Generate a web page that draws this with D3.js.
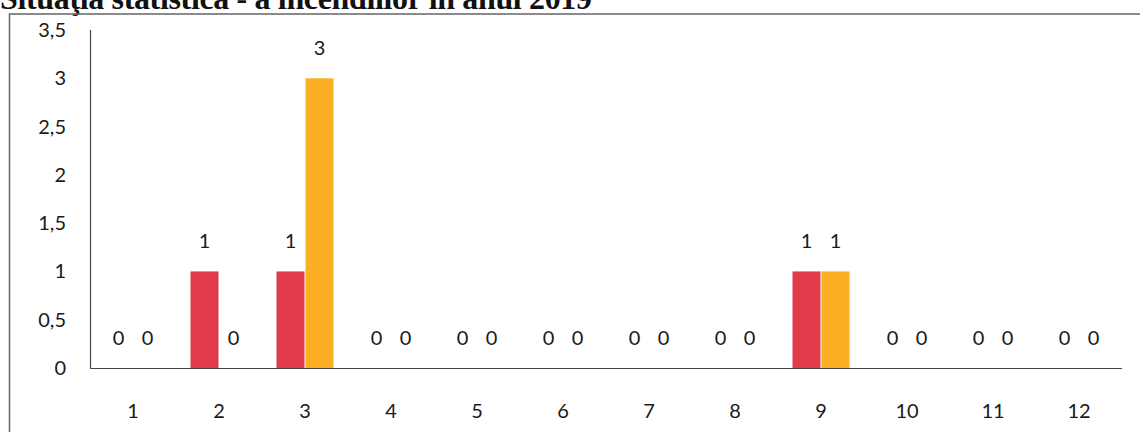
<!DOCTYPE html>
<html>
<head>
<meta charset="utf-8">
<script src="https://cdn.jsdelivr.net/npm/d3@7"></script>
<style>
  body { margin: 0; background: #fff; }
  #chart { width: 1140px; height: 432px; }
</style>
</head>
<body>
<div id="chart"></div>
<script>
// data
var months = ["1", "2", "3", "4", "5", "6", "7", "8", "9", "10", "11", "12"];
var redValues = [0, 1, 1, 0, 0, 0, 0, 0, 1, 0, 0, 0];
var orangeValues = [0, 0, 3, 0, 0, 0, 0, 0, 1, 0, 0, 0];
var yTicks = [0, 0.5, 1, 1.5, 2, 2.5, 3, 3.5];
var titleText = "Situaţia statistica - a incendiilor în anul 2019";

var width = 1140, height = 432;

var svg = d3.select("#chart").append("svg")
    .attr("width", width)
    .attr("height", height);

// title (cut off at the top like the scan)
svg.append("text")
    .attr("x", 0)
    .attr("y", 9)
    .attr("font-family", "Liberation Serif, Times New Roman, serif")
    .attr("font-weight", "bold")
    .attr("font-size", "32px")
    .attr("textLength", 592)
    .attr("lengthAdjust", "spacing")
    .attr("fill", "#111")
    .text(titleText);

// outer frame
svg.append("path")
    .attr("d", "M9.5," + height + "V14H" + width)
    .attr("fill", "none")
    .attr("stroke", "#666")
    .attr("stroke-width", 1.5);

var x = d3.scaleBand()
    .domain(months)
    .range([90, 1122]);

var y = d3.scaleLinear()
    .domain([0, 3.5])
    .range([368, 30]);

var fmt = function(d) { return String(d).replace(".", ","); };
var font = "Lato, Open Sans, sans-serif";

// y axis
svg.append("line")
    .attr("x1", 90.5).attr("x2", 90.5)
    .attr("y1", y(3.5)).attr("y2", y(0))
    .attr("stroke", "#444")
    .attr("stroke-width", 1.2);

svg.selectAll(".ytick")
    .data(yTicks)
    .enter()
    .append("text")
    .attr("class", "ytick")
    .attr("x", 66)
    .attr("y", d => y(d) + 7)
    .attr("text-anchor", "end")
    .attr("font-family", font)
    .attr("font-size", "20px")
    .attr("fill", "#1a1a1a")
    .text(fmt);

// bars
var barW = 28;
var series = [
    { values: redValues, color: "#e2394b", dx: -barW - 0.5 },
    { values: orangeValues, color: "#fcae25", dx: 0.5 }
];

series.forEach(function(s, si) {
    svg.selectAll(".bar" + si)
        .data(months)
        .enter()
        .append("rect")
        .attr("class", "bar" + si)
        .attr("x", (d, i) => x(d) + x.bandwidth() / 2 + s.dx)
        .attr("y", (d, i) => y(s.values[i]))
        .attr("width", barW)
        .attr("height", (d, i) => y(0) - y(s.values[i]))
        .attr("fill", s.color);

    svg.selectAll(".val" + si)
        .data(months)
        .enter()
        .append("text")
        .attr("class", "val" + si)
        .attr("x", (d, i) => x(d) + x.bandwidth() / 2 + s.dx + barW / 2)
        .attr("y", (d, i) => y(s.values[i]) - 23)
        .attr("text-anchor", "middle")
        .attr("font-family", font)
        .attr("font-size", "20px")
        .attr("fill", "#1a1a1a")
        .text((d, i) => s.values[i]);
});

// x axis
svg.append("line")
    .attr("x1", 90).attr("x2", 1122)
    .attr("y1", 368.5).attr("y2", 368.5)
    .attr("stroke", "#444")
    .attr("stroke-width", 1.2);

svg.selectAll(".xtick")
    .data(months)
    .enter()
    .append("text")
    .attr("class", "xtick")
    .attr("x", d => x(d) + x.bandwidth() / 2)
    .attr("y", 418)
    .attr("text-anchor", "middle")
    .attr("font-family", font)
    .attr("font-size", "20px")
    .attr("fill", "#1a1a1a")
    .text(d => d);
</script>
</body>
</html>
